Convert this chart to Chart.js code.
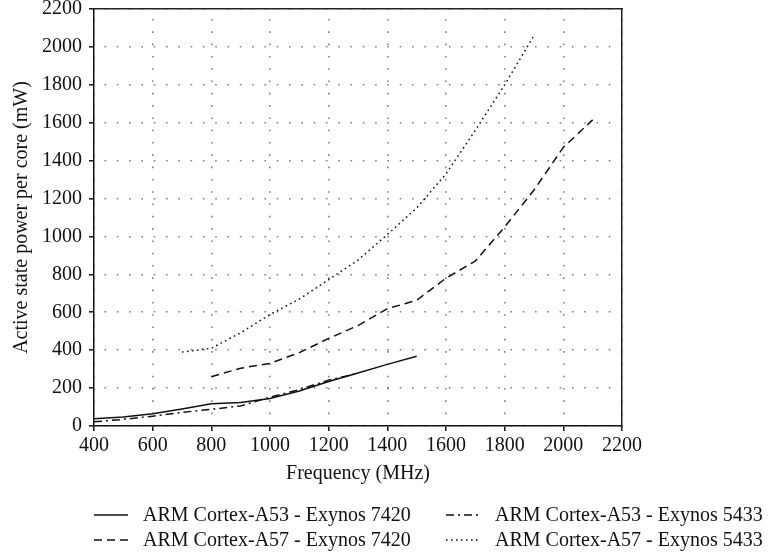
<!DOCTYPE html>
<html lang="en">
<head>
    <meta charset="UTF-8" />
    <title>Active state power per core</title>
    <script src="https://cdn.jsdelivr.net/npm/chart.js"></script>
    <style>
        body { margin: 0; background: #fff; }
        #wrap { position: relative; width: 775px; height: 560px; }
        #legend {
            position: absolute; left: 94px; top: 502px;
            display: grid; grid-template-columns: 352px auto;
            font-family: 'Liberation Serif', 'DejaVu Serif', serif;
            font-size: 20px; color: #111;
        }
        #legend .item { display: flex; align-items: center; height: 25px; white-space: nowrap; }
        #legend svg { margin-right: 15px; }
    </style>
</head>
<body>

<div id="wrap">
    <canvas id="powerChart" width="775" height="560"></canvas>
    <div id="legend"></div>
</div>

<script>
    // значения
    const xTicks = [400, 600, 800, 1000, 1200, 1400, 1600, 1800, 2000, 2200];
    const yTicks = [0, 200, 400, 600, 800, 1000, 1200, 1400, 1600, 1800, 2000, 2200];

    const seriesNames = [
        'ARM Cortex-A53 - Exynos 7420',
        'ARM Cortex-A53 - Exynos 5433',
        'ARM Cortex-A57 - Exynos 7420',
        'ARM Cortex-A57 - Exynos 5433'
    ];

    const freqA53_7420 = [400, 500, 600, 700, 800, 900, 1000, 1100, 1200, 1300, 1400, 1500];
    const powerA53_7420 = [38, 48, 65, 90, 117, 124, 145, 185, 235, 280, 325, 368];

    const freqA53_5433 = [400, 500, 600, 700, 800, 900, 1000, 1100, 1200, 1300];
    const powerA53_5433 = [22, 35, 52, 72, 88, 106, 152, 192, 242, 278];

    const freqA57_7420 = [800, 900, 1000, 1100, 1200, 1300, 1400, 1500, 1600, 1700, 1800, 1900, 2000, 2100];
    const powerA57_7420 = [260, 305, 330, 387, 462, 530, 619, 663, 780, 870, 1050, 1245, 1470, 1615];

    const freqA57_5433 = [700, 800, 900, 1000, 1100, 1200, 1300, 1400, 1500, 1600, 1700, 1800, 1900];
    const powerA57_5433 = [390, 410, 492, 588, 670, 772, 875, 1010, 1150, 1330, 1560, 1800, 2060];

    function toPoints(xs, ys) {
        return xs.map((x, i) => ({ x: x, y: ys[i] }));
    }

    Chart.defaults.font.family = "'Liberation Serif', 'DejaVu Serif', serif";
    Chart.defaults.font.size = 20;
    Chart.defaults.color = '#111';

    const htmlLegend = {
        id: 'htmlLegend',
        afterUpdate(chart) {
            const box = document.getElementById('legend');
            box.innerHTML = '';
            const items = chart.options.plugins.legend.labels.generateLabels(chart);
            items.forEach(item => {
                const div = document.createElement('div');
                div.className = 'item';
                const dash = (item.lineDash || []).join(' ');
                div.innerHTML =
                    `<svg width="34" height="10"><line x1="0" y1="5" x2="34" y2="5" stroke="${item.strokeStyle}" ` +
                    `stroke-width="${item.lineWidth}" stroke-dasharray="${dash}"/></svg><span>${item.text}</span>`;
                box.appendChild(div);
            });
        }
    };

    const lineBase = { borderColor: '#111', borderWidth: 1.5, pointRadius: 0, fill: false, tension: 0 };

    const gridOpts = {
        color: '#808080', lineWidth: 1.6,
        tickLength: 5, tickColor: '#111', tickWidth: 1.5, tickBorderDash: []
    };

    const plainNumber = v => String(v);

    new Chart(document.getElementById('powerChart'), {
        type: 'line',
        data: {
            datasets: [
                { ...lineBase, label: seriesNames[0], data: toPoints(freqA53_7420, powerA53_7420), borderDash: [] },
                { ...lineBase, label: seriesNames[1], data: toPoints(freqA53_5433, powerA53_5433), borderDash: [8, 4, 2, 4] },
                { ...lineBase, label: seriesNames[2], data: toPoints(freqA57_7420, powerA57_7420), borderDash: [8, 5] },
                { ...lineBase, label: seriesNames[3], data: toPoints(freqA57_5433, powerA57_5433), borderDash: [1.6, 3.4] }
            ]
        },
        plugins: [htmlLegend],
        options: {
            responsive: false,
            animation: false,
            layout: { padding: { left: 0, right: 153, top: 0, bottom: 74 } },
            plugins: {
                legend: { display: false },
                tooltip: { enabled: false }
            },
            scales: {
                x: {
                    type: 'linear', position: 'bottom', min: 400, max: 2200,
                    afterBuildTicks: s => { s.ticks = xTicks.map(v => ({ value: v })); },
                    afterFit: s => { s.height = 60; },
                    grid: gridOpts,
                    border: { display: true, color: '#111', width: 1.5, dash: [1.6, 10.7], dashOffset: 2.3 },
                    ticks: { padding: 3, maxRotation: 0, autoSkip: false, callback: plainNumber },
                    title: { display: true, text: 'Frequency (MHz)', padding: { top: 0, bottom: 0 } }
                },
                y: {
                    type: 'linear', position: 'left', min: 0, max: 2200,
                    afterBuildTicks: s => { s.ticks = yTicks.map(v => ({ value: v })); },
                    afterFit: s => { s.width = 94; s.paddingTop = 9; },
                    grid: gridOpts,
                    border: { display: true, color: '#111', width: 1.5, dash: [1.6, 10.7], dashOffset: 2.3 },
                    ticks: { padding: 7, autoSkip: false, callback: plainNumber },
                    title: { display: true, text: 'Active state power per core (mW)', padding: { top: 10, bottom: 0 } }
                },
                xTop: {
                    type: 'linear', position: 'top', display: true,
                    afterFit: s => { s.height = 0; },
                    grid: { display: false },
                    ticks: { display: false },
                    border: { display: true, color: '#222', width: 1.5 }
                },
                yRight: {
                    type: 'linear', position: 'right', display: true,
                    afterFit: s => { s.width = 0; },
                    grid: { display: false },
                    ticks: { display: false },
                    border: { display: true, color: '#222', width: 1.5 }
                }
            }
        }
    });
</script>

</body>
</html>
